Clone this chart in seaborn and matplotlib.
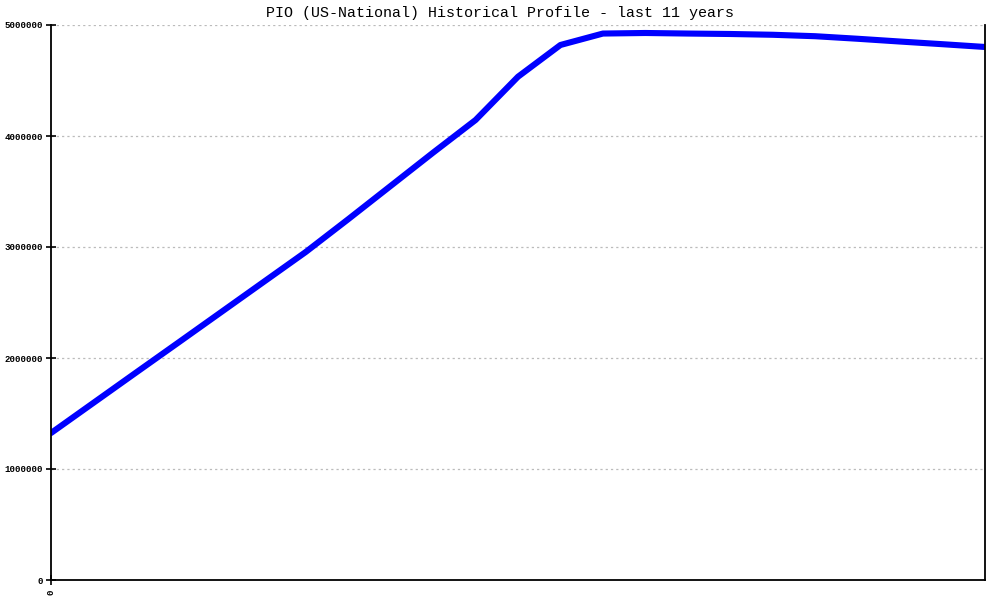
import pandas as pd
import matplotlib
matplotlib.use("Agg")
import matplotlib.pyplot as plt
import seaborn as sns

# values (23 evenly spaced samples over 11 years)
step = list(range(23))
total = [1324000, 1596000, 1868000, 2139000, 2411000, 2683000, 2955000,
         3250000, 3550000, 3850000, 4144000, 4534000, 4820000, 4923000,
         4928000, 4923000, 4919000, 4912000, 4899000, 4876000, 4851000,
         4827000, 4802000]
y_ticks = [0, 1000000, 2000000, 3000000, 4000000, 5000000]
x_tick_labels = ["0"]
title = "PIO (US-National) Historical Profile - last 11 years"

df = pd.DataFrame({"step": step, "total": total})

sns.set_style("white")
plt.rcParams['font.family'] = ['Liberation Mono', 'DejaVu Sans Mono']
plt.rcParams['lines.scale_dashes'] = False
plt.rcParams['text.color'] = 'black'
plt.rcParams['xtick.color'] = 'black'
plt.rcParams['ytick.color'] = 'black'

fig = plt.figure(figsize=(10, 6), dpi=100)
ax = fig.add_axes([0.051, 1 - 580 / 600, 0.985 - 0.051, (580 - 25) / 600])

sns.lineplot(data=df, x="step", y="total", color="#0000ff", linewidth=4.4, ax=ax)

ax.set_xlim(0, len(step) - 1)
ax.set_ylim(0, 5000000)
ax.set_yticks(y_ticks)
ax.set_yticklabels([str(v) for v in y_ticks], fontsize=6.6, fontweight="bold")
ax.set_xticks([0])
ax.set_xticklabels(x_tick_labels, rotation=90, fontsize=6.6, fontweight="bold")
ax.tick_params(axis="y", left=True, direction="inout", length=7, width=1.2,
               color="black", labelcolor="black", pad=2)
ax.tick_params(axis="x", bottom=True, direction="inout", length=7, width=1.2,
               color="black", labelcolor="black", pad=3)

# dotted grey grid lines
for v in y_ticks[1:]:
    ax.axhline(v, color="#bbbbbb", linewidth=0.9, linestyle=(0, (1.6, 2.2)), zorder=0)

for side in ["left", "bottom", "right"]:
    ax.spines[side].set_color("black")
    ax.spines[side].set_linewidth(1.3)
ax.spines["top"].set_visible(False)

ax.set_xlabel("")
ax.set_ylabel("")
fig.text(0.5, 1 - 13 / 600, title, ha="center", va="center", fontsize=10.8,
         color="black")

fig.savefig("out.png", dpi=100)
